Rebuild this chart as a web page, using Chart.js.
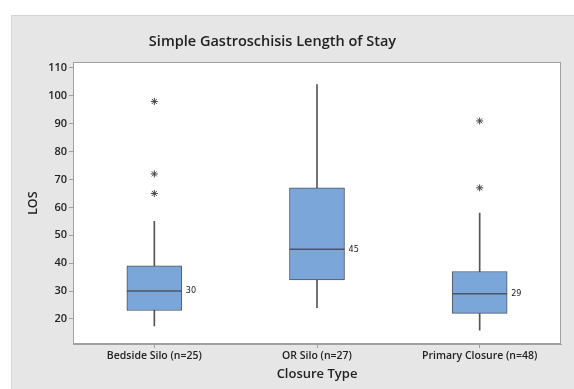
<!DOCTYPE html>
<html>
<head>
<meta charset="utf-8">
<script src="https://cdn.jsdelivr.net/npm/chart.js@4.4.1/dist/chart.umd.min.js"></script>
<style>
  html, body { margin: 0; padding: 0; background: #ffffff; }
  #panel { position: absolute; left: 11px; top: 15px; width: 563px; height: 374px;
           background: #e6e6e6; border-top: 1px solid #d4d4d4; border-left: 1px solid #d4d4d4; box-sizing: border-box; }
  #wrap { position: absolute; left: 0; top: 0; width: 562px; height: 373px; }
</style>
</head>
<body>
<div id="panel"><div id="wrap"><canvas id="c"></canvas></div></div>
<script>
const categories = ["Bedside Silo (n=25)", "OR Silo (n=27)", "Primary Closure (n=48)"];
const q1 = [23, 34, 22];
const q3 = [39, 67, 37];
const medians = [30, 45, 29];
const whiskerLow = [17.5, 24, 16];
const whiskerHigh = [55, 104, 58];
const outliers = [
  { cat: 0, values: [98, 72, 65] },
  { cat: 1, values: [] },
  { cat: 2, values: [91, 67] }
];
const yTicks = [20, 30, 40, 50, 60, 70, 80, 90, 100, 110];

const boxData = categories.map((c, i) => [q1[i], q3[i]]);
const whiskerData = categories.map((c, i) => [whiskerLow[i], whiskerHigh[i]]);
const medianData = categories.map((c, i) => ({ x: c, y: medians[i] }));
const outlierData = [];
outliers.forEach(o => o.values.forEach(v => outlierData.push({ x: categories[o.cat], y: v })));

const BOX_W = 55;

const framePlugin = {
  id: 'frame',
  afterLayout(chart) {
    // title centred a little left of the panel centre, as in the original
    const t = chart.titleBlock;
    if (t) { t.left = 0; t.right = 521; t.width = 521; }
  },
  beforeDatasetsDraw(chart) {
    const a = chart.chartArea, ctx = chart.ctx;
    ctx.save();
    ctx.fillStyle = '#ffffff';
    ctx.fillRect(a.left, a.top, a.right - a.left, a.bottom - a.top);
    ctx.restore();
  },
  afterDatasetsDraw(chart) {
    const a = chart.chartArea, ctx = chart.ctx;
    const xs = chart.scales.x, ys = chart.scales.y;
    ctx.save();
    ctx.strokeStyle = '#a0a0a0';
    ctx.lineWidth = 1;
    ctx.strokeRect(Math.round(a.left) + 0.5, Math.round(a.top) + 0.5,
                   Math.round(a.right - a.left) - 1, Math.round(a.bottom - a.top) - 1);
    ctx.fillStyle = '#222';
    ctx.font = '9px "DejaVu Sans Condensed", "Liberation Sans", sans-serif';
    ctx.textBaseline = 'middle';
    ctx.textAlign = 'left';
    medians.forEach((m, i) => {
      const x = xs.getPixelForValue(i) + BOX_W / 2 + 4;
      const y = ys.getPixelForValue(m);
      ctx.fillText(String(m), x, y);
    });
    ctx.restore();
  }
};

new Chart(document.getElementById('c'), {
  type: 'bar',
  data: {
    labels: categories,
    datasets: [
      {
        type: 'bar', data: whiskerData, grouped: false, order: 3,
        barThickness: 1, backgroundColor: '#555555', borderWidth: 0
      },
      {
        type: 'bar', data: boxData, grouped: false, order: 2,
        barThickness: BOX_W, backgroundColor: '#7ba6da', borderColor: '#4e5560',
        borderWidth: 1, borderSkipped: false
      },
      {
        type: 'line', data: medianData, showLine: false, order: 1,
        pointStyle: 'line', pointRadius: BOX_W / 2, borderColor: '#4e5560', borderWidth: 1.5
      },
      {
        type: 'line', data: outlierData, showLine: false, order: 0,
        pointStyle: 'star', pointRadius: 3.5, borderColor: '#444444', borderWidth: 1
      }
    ]
  },
  options: {
    responsive: true,
    maintainAspectRatio: false,
    animation: false,
    events: [],
    layout: { autoPadding: false, padding: { left: 0, right: 13, top: 0, bottom: 0 } },
    plugins: {
      legend: { display: false },
      tooltip: { enabled: false },
      title: {
        display: true,
        text: 'Simple Gastroschisis Length of Stay',
        color: '#222',
        font: { family: '"Open Sans", sans-serif', size: 14.5, weight: '600' },
        padding: { top: 17, bottom: 12 }
      }
    },
    scales: {
      x: {
        offset: true,
        grid: { display: true, offset: false, drawOnChartArea: false, tickLength: 4, color: '#a0a0a0' },
        border: { display: true, color: '#a0a0a0' },
        ticks: { color: '#222', font: { family: '"Open Sans", sans-serif', size: 10.5, weight: '600' }, padding: 2, maxRotation: 0 },
        title: { display: true, text: 'Closure Type', color: '#222',
                 font: { family: '"Open Sans", sans-serif', size: 13, weight: '600' }, padding: { top: 0, bottom: 7 } },
        afterFit(s) { s.height = 45; }
      },
      y: {
        min: 11, max: 112,
        afterBuildTicks(s) { s.ticks = yTicks.map(v => ({ value: v })); },
        grid: { display: true, drawOnChartArea: false, tickLength: 4, color: '#a0a0a0' },
        border: { display: true, color: '#a0a0a0' },
        ticks: { color: '#222', font: { family: '"Open Sans", sans-serif', size: 11, weight: '600' }, padding: 2 },
        title: { display: true, text: 'LOS', color: '#222',
                 font: { family: '"Open Sans", sans-serif', size: 12.5, weight: '600' }, padding: { top: 14, bottom: 4 } },
        afterFit(s) { s.width = 61; }
      }
    }
  },
  plugins: [framePlugin]
});
</script>
</body>
</html>
